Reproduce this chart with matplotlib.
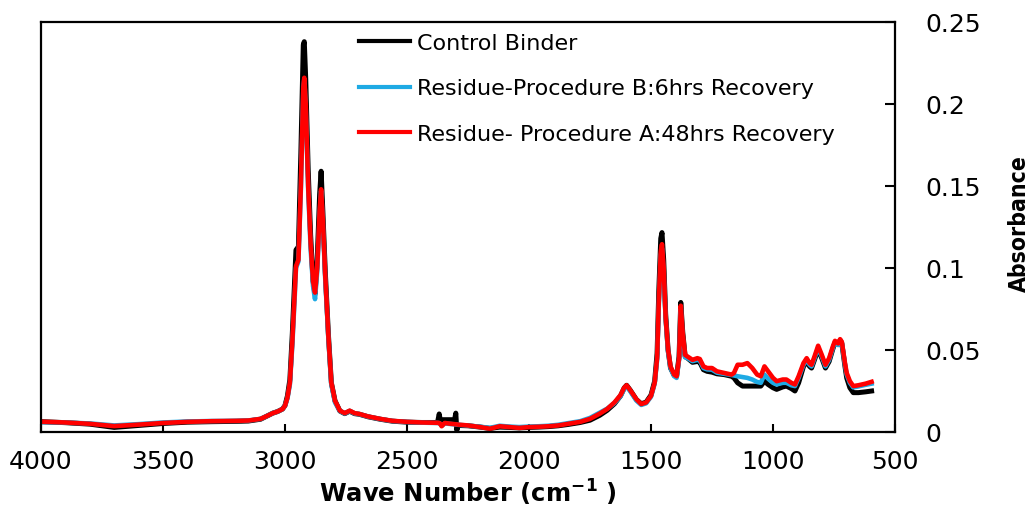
import matplotlib
matplotlib.use("Agg")
import matplotlib.pyplot as plt
from matplotlib.ticker import FuncFormatter, MultipleLocator

# FTIR spectra: wave number (cm-1) and absorbance of each sample
wave_number = [
    4000, 3900, 3800, 3700, 3600, 3500, 3400, 3300, 3200, 3150,
    3100, 3070, 3050, 3030, 3010, 3000, 2990, 2980, 2970, 2960,
    2955, 2945, 2935, 2925, 2921, 2915, 2905, 2895, 2885, 2877,
    2868, 2858, 2852, 2845, 2835, 2822, 2810, 2795, 2775, 2755,
    2735, 2715, 2695, 2660, 2610, 2560, 2500, 2440, 2400, 2375,
    2368, 2364, 2358, 2345, 2320, 2305, 2300, 2296, 2290, 2250,
    2200, 2160, 2120, 2080, 2040, 2000, 1960, 1920, 1880, 1840,
    1790, 1750, 1710, 1680, 1650, 1625, 1610, 1600, 1585, 1560,
    1540, 1520, 1500, 1485, 1475, 1468, 1460, 1455, 1448, 1440,
    1430, 1420, 1405, 1395, 1385, 1378, 1370, 1360, 1350, 1330,
    1310, 1300, 1285, 1270, 1250, 1230, 1200, 1170, 1160, 1145,
    1125, 1105, 1085, 1065, 1050, 1035, 1020, 1000, 985, 960,
    945, 925, 910, 895, 875, 862, 850, 842, 830, 815,
    800, 785, 770, 755, 746, 733, 725, 718, 705, 698,
    685, 671, 650, 620, 596,
]

control = [
    .0063, .0057, .0048, .0028, .0040, .0052, .0060, .0063, .0065, .0067,
    .0078, .0100, .0115, .0125, .0140, .0162, .0220, .0320, .0600, .0950,
    .111, .113, .170, .236, .238, .215, .160, .120, .092, .084,
    .105, .145, .159, .135, .098, .059, .030, .019, .0128, .0112,
    .0127, .0112, .0108, .0093, .0078, .0066, .0060, .0058, .0058, .0058,
    .0110, .0075, .0075, .0075, .0075, .0075, .0115, .0010, .0040, .0038,
    .0030, .0022, .0030, .0028, .0025, .0028, .0030, .0033, .0038, .0046,
    .0058, .0072, .0102, .0132, .0172, .0220, .0268, .0285, .0255, .0198,
    .0172, .0182, .0225, .0310, .0480, .0860, .1180, .1216, .1050, .0720,
    .0500, .0390, .0345, .0340, .0460, .0790, .0610, .0460, .0450, .0425,
    .0430, .0425, .0380, .0370, .0365, .0355, .0350, .0340, .0330, .0300,
    .0280, .0280, .0280, .0280, .0280, .0310, .0290, .0270, .0260, .0275,
    .0280, .0265, .0250, .0300, .0400, .0430, .0400, .0390, .0440, .0505,
    .0450, .0390, .0430, .0505, .0545, .0535, .0560, .0540, .0400, .0330,
    .0270, .0240, .0240, .0245, .0250,
]

proc_b_6h = [
    .0060, .0058, .0052, .0040, .0048, .0058, .0064, .0067, .0068, .0070,
    .0080, .0100, .0115, .0125, .0140, .0160, .0205, .0290, .0530, .0830,
    .100, .104, .148, .208, .215, .198, .148, .112, .089, .081,
    .098, .133, .147, .128, .093, .057, .029, .018, .0128, .0113,
    .0128, .0113, .0109, .0094, .0079, .0067, .0061, .0057, .0056, .0055,
    .0054, .0050, .0038, .0052, .0049, .0047, .0046, .0045, .0044, .0039,
    .0032, .0025, .0038, .0033, .0030, .0033, .0035, .0038, .0044, .0054,
    .0066, .0086, .0118, .0142, .0176, .0218, .0262, .0278, .0248, .0192,
    .0165, .0175, .0215, .0295, .0440, .0780, .1080, .1120, .0980, .0690,
    .0490, .0390, .0340, .0330, .0440, .0750, .0580, .0455, .0450, .0432,
    .0440, .0435, .0390, .0382, .0380, .0362, .0355, .0348, .0345, .0340,
    .0335, .0330, .0320, .0305, .0300, .0350, .0325, .0300, .0290, .0300,
    .0300, .0285, .0280, .0330, .0410, .0440, .0410, .0400, .0450, .0512,
    .0460, .0400, .0440, .0510, .0548, .0530, .0555, .0545, .0410, .0350,
    .0300, .0272, .0278, .0288, .0295,
]

proc_a_48h = [
    .0063, .0058, .0050, .0036, .0045, .0055, .0062, .0066, .0068, .0070,
    .0080, .0100, .0115, .0125, .0140, .0160, .0210, .0300, .0550, .0850,
    .101, .105, .150, .210, .216, .200, .150, .115, .092, .085,
    .100, .135, .148, .130, .095, .058, .030, .019, .0130, .0115,
    .0130, .0115, .0110, .0095, .0080, .0068, .0062, .0058, .0057, .0056,
    .0055, .0050, .0035, .0055, .0050, .0048, .0047, .0046, .0045, .0040,
    .0030, .0020, .0035, .0030, .0025, .0030, .0032, .0035, .0040, .0050,
    .0062, .0080, .0112, .0140, .0180, .0225, .0270, .0285, .0255, .0200,
    .0170, .0180, .0220, .0300, .0450, .0800, .1100, .1145, .1000, .0700,
    .0500, .0400, .0350, .0340, .0450, .0770, .0600, .0470, .0460, .0440,
    .0450, .0445, .0400, .0390, .0390, .0370, .0360, .0350, .0360, .0410,
    .0410, .0420, .0390, .0350, .0340, .0400, .0370, .0330, .0310, .0320,
    .0320, .0300, .0290, .0340, .0420, .0450, .0420, .0410, .0460, .0526,
    .0470, .0410, .0450, .0520, .0556, .0540, .0566, .0550, .0420, .0360,
    .0310, .0280, .0285, .0295, .0306,
]

labels = [
    "Control Binder",
    "Residue-Procedure B:6hrs Recovery",
    "Residue- Procedure A:48hrs Recovery",
]
x_ticks = [4000, 3500, 3000, 2500, 2000, 1500, 1000, 500]

fig = plt.figure(figsize=(10.32, 5.06), dpi=100)
ax = fig.add_axes([41 / 1032, 1 - 433 / 506, 854 / 1032, 410 / 506])

ax.plot(wave_number, control, color="black", lw=3.6, label=labels[0],
        solid_joinstyle="round")
ax.plot(wave_number, proc_b_6h, color="#1EAAE4", lw=3.3, label=labels[1],
        solid_joinstyle="round")
ax.plot(wave_number, proc_a_48h, color="#FF0000", lw=3.3, label=labels[2],
        solid_joinstyle="round")

ax.set_xlim(4000, 500)
ax.set_ylim(0, 0.25)
ax.set_xticks(x_ticks)
ax.yaxis.set_major_locator(MultipleLocator(0.05))
ax.yaxis.set_major_formatter(FuncFormatter(lambda v, _: f"{v:g}"))

for s in ax.spines.values():
    s.set_linewidth(1.6)

ax.yaxis.tick_right()
ax.tick_params(axis="x", direction="in", length=6, width=1.5,
               labelsize=18, pad=12)
ax.tick_params(axis="y", direction="in", length=7, width=1.5,
               labelsize=18, pad=22, right=True, left=False)

ax.set_xlabel(r"Wave Number (cm$^{\mathbf{-1}}$ )", fontsize=17.5,
              fontweight="bold", labelpad=3)
fig.text(1019 / 1032, 1 - 224 / 506, "Absorbance", rotation=90,
         ha="center", va="center", fontsize=16.5, fontweight="bold",
         fontstretch="condensed")

leg = ax.legend(loc="upper left", bbox_to_anchor=(0.362, 0.995),
                frameon=False, fontsize=16, handlelength=2.3,
                handletextpad=0.3, labelspacing=1.15, borderaxespad=0)
for h in leg.get_lines():
    h.set_linewidth(3)

fig.savefig("out.png", dpi=100)
